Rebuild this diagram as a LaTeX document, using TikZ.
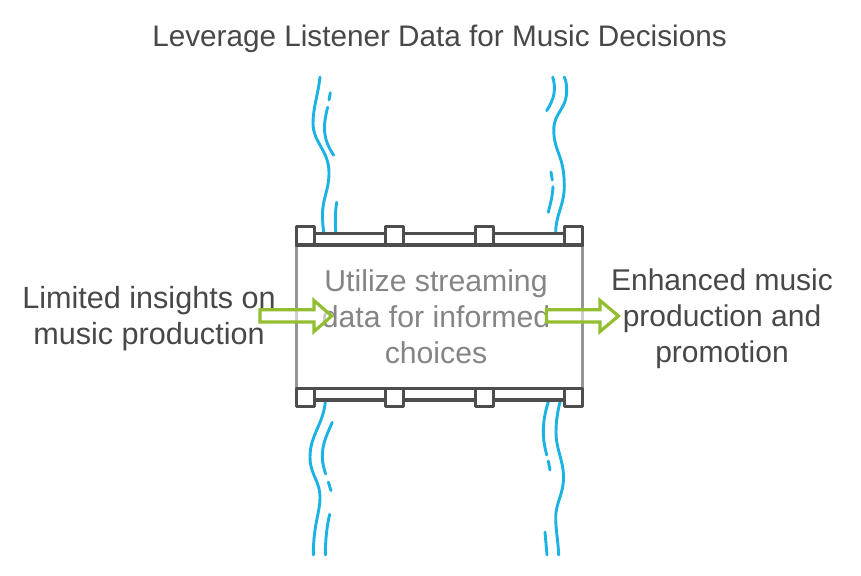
\documentclass[tikz,border=0pt]{standalone}
\usepackage{fontspec}
\setmainfont{Liberation Sans}
\definecolor{ink}{HTML}{484848}
\definecolor{soft}{HTML}{858585}
\definecolor{frame}{HTML}{4D4D4D}
\definecolor{wall}{HTML}{959595}
\definecolor{water}{HTML}{1BB2E4}
\definecolor{leaf}{HTML}{92BE30}
\tikzset{
  x=1pt,y=-1pt,
  lab/.style={text=ink,align=center,inner sep=0pt,font=\fontsize{29.7}{35.8}\selectfont},
  mid/.style={text=soft,align=center,inner sep=0pt,font=\fontsize{30.2}{35.8}\selectfont},
  flow/.style={draw=water,line width=2.9pt,line cap=round},
  bar/.style={draw=frame,line width=3.1pt,line join=round,fill=white},
  post/.style={draw=frame,line width=3.1pt,line join=round,fill=white},
  block/.style={draw=leaf,line width=3.2pt,line join=miter,fill=white,fill opacity=.55},
}
\begin{document}
\begin{tikzpicture}
\useasboundingbox (0,0) rectangle (861,575);
\fill[white] (0,0) rectangle (861,575);
\node[lab] (title) at (439.5,38.5) {Leverage Listener Data for Music Decisions};
% streams, top
\draw[flow] (320,77) .. controls (318,95) and (313,108) .. (313,123) .. controls (313,143) and (329,150) .. (329,173) .. controls (329,190) and (322.5,198) .. (322.5,215) .. controls (322.5,222) and (323,227) .. (323.7,232);
\draw[flow] (330.3,92.7) -- (329,100);
\draw[flow] (327.7,107.3) .. controls (325.5,115) and (324.5,122) .. (324.5,128) .. controls (324.5,140) and (329,148) .. (333.7,155.3);
\draw[flow] (336.7,202.3) .. controls (335.3,210) and (335,222) .. (335.7,232);
\draw[flow] (552.7,77) .. controls (556,88) and (555,98) .. (546.7,110.7);
\draw[flow] (564.3,77) .. controls (566,81) and (566.7,85) .. (566.7,90) .. controls (566.7,110) and (553.8,112) .. (553.8,130) .. controls (553.8,152) and (564.3,155) .. (564.3,186) .. controls (564.3,205) and (555.7,215) .. (555.7,232);
\draw[flow] (551,172) -- (552.3,180);
\draw[flow] (553,186.7) .. controls (552.5,197) and (550,205) .. (548.3,212.3);
% streams, bottom
\draw[flow] (325.3,402) .. controls (323,425) and (310,435) .. (310,457) .. controls (310,475) and (320,480) .. (320,498) .. controls (320,512) and (313.3,525) .. (313.3,555);
\draw[flow] (332.3,422.3) .. controls (327,434) and (322.3,444) .. (322.3,456) .. controls (322.3,463) and (324,469) .. (325.7,474);
\draw[flow] (328.3,482) -- (331,490.7);
\draw[flow] (329.7,514.3) .. controls (327,525) and (325.3,540) .. (325.3,555);
\draw[flow] (548.3,402) .. controls (545,412) and (543.3,422) .. (543.3,432) .. controls (543.3,441) and (545,448) .. (546.7,455);
\draw[flow] (548.3,461) -- (550,470);
\draw[flow] (545,532) -- (547,555);
\draw[flow] (560,402) .. controls (557.5,412) and (556,422) .. (556,432) .. controls (556,450) and (563.5,460) .. (563.5,477) .. controls (563.5,495) and (555.7,502) .. (555.7,518) .. controls (555.7,530) and (558,540) .. (558.7,555);
% chamber
\draw[draw=wall,line width=2.8pt] (296.7,245) rectangle (582.7,388);
\node[mid] (center) at (436,316.5) {Utilize streaming\\data for informed\\choices};
% gates
\draw[bar] (296.7,233.5) rectangle (582.7,245);
\draw[bar] (296.7,388.5) rectangle (582.7,400);
\foreach \x in {296.7,385.7,475.2,564.5}{
  \draw[post] (\x,226.8) rectangle ++(18,18.2);
  \draw[post] (\x,388.5) rectangle ++(18,18.2);
}
% side texts
\node[lab,font=\fontsize{30.6}{35.8}\selectfont] (left) at (149,318.5) {Limited insights on\\music production};
\node[lab,font=\fontsize{30}{35.8}\selectfont] (right) at (722,318.5) {Enhanced music\\production and\\promotion};
% arrows
\draw[block] (260,309.7) -- (314,309.7) -- (314,300.5) -- (331.7,316) -- (314,331.5) -- (314,322) -- (260,322) -- cycle;
\draw[block] (546.5,309.7) -- (600,309.7) -- (600,300.5) -- (618.5,316) -- (600,331.5) -- (600,322) -- (546.5,322) -- cycle;
\end{tikzpicture}
\end{document}
